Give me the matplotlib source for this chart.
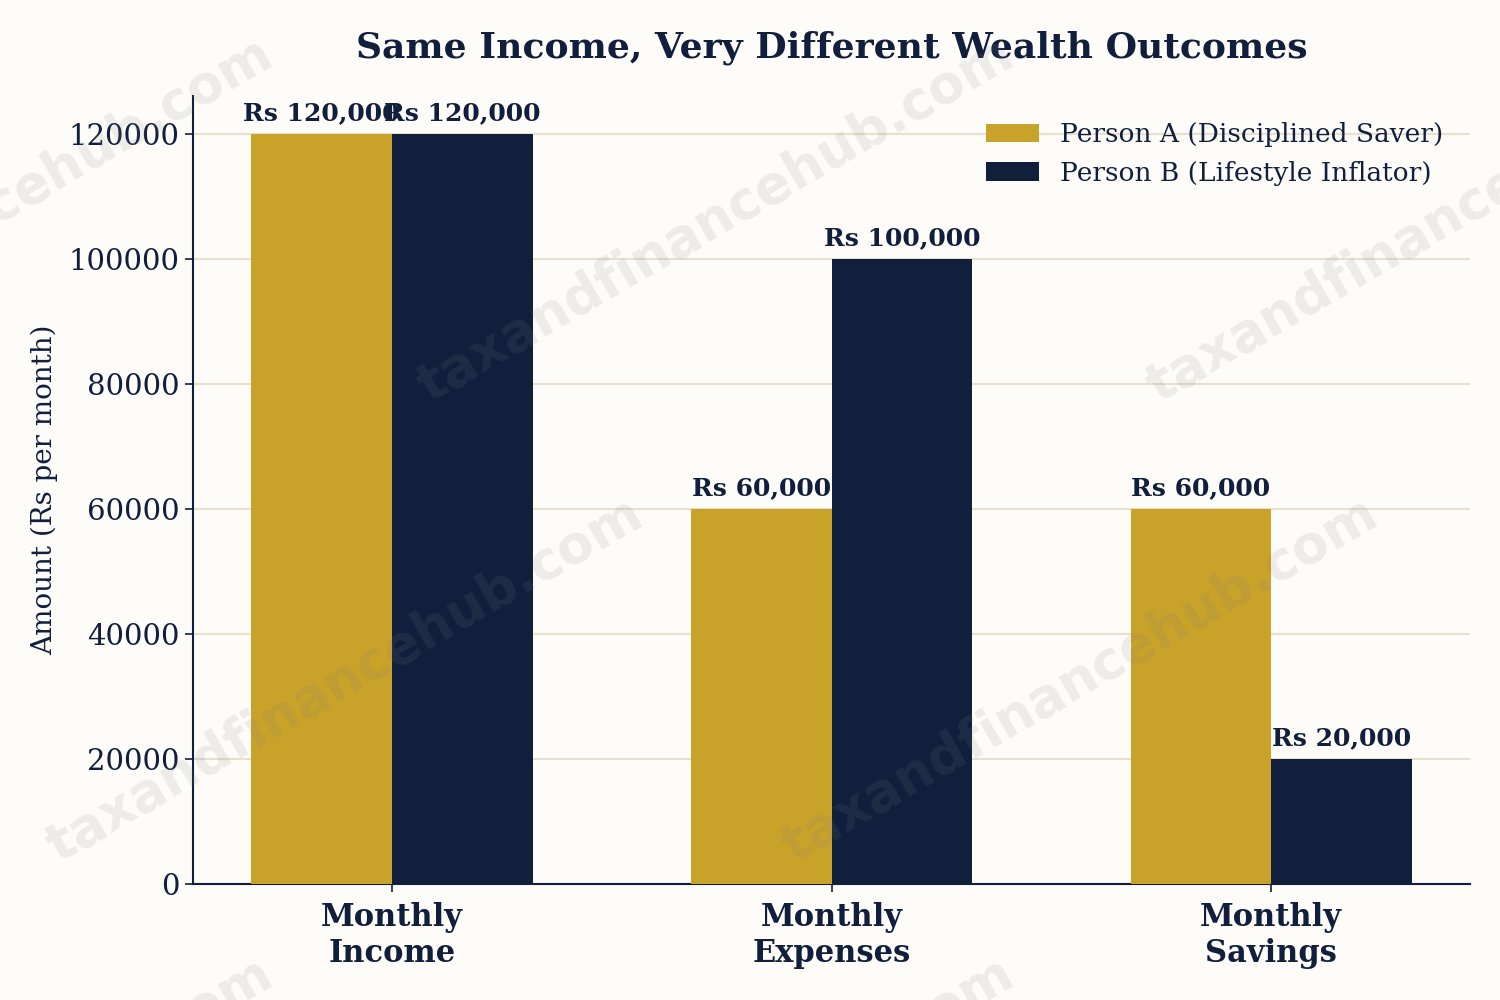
import numpy as np
import matplotlib
matplotlib.use("Agg")
import matplotlib.pyplot as plt

categories = ["Monthly\nIncome", "Monthly\nExpenses", "Monthly\nSavings"]
person_a = [120000, 60000, 60000]
person_b = [120000, 100000, 20000]
label_a = "Person A (Disciplined Saver)"
label_b = "Person B (Lifestyle Inflator)"

navy = "#111f3d"
gold = "#c9a22a"
bg = "#fdfcf8"

plt.rcParams["font.family"] = "DejaVu Serif"

fig, ax = plt.subplots(figsize=(15, 10), dpi=100)
fig.patch.set_facecolor(bg)
ax.set_facecolor(bg)
fig.subplots_adjust(left=0.1287, right=0.98, bottom=0.116, top=0.904)

x = np.arange(len(categories))
w = 0.32
bars_a = ax.bar(x - w / 2, person_a, w, color=gold, label=label_a, zorder=3)
bars_b = ax.bar(x + w / 2, person_b, w, color=navy, label=label_b, zorder=3)

for bars in (bars_a, bars_b):
    ax.bar_label(bars, labels=["Rs {:,}".format(v) for v in bars.datavalues],
                 padding=6, fontsize=18, fontweight="bold", color=navy, zorder=4)

ax.set_ylim(0, 126000)
ax.set_xticks(x)
ax.set_xticklabels(categories, fontsize=22, fontweight="bold", color=navy)
ax.tick_params(axis="y", labelsize=21, colors=navy, length=6, width=1.2)
ax.tick_params(axis="x", length=6, width=1.2, colors=navy, pad=7)
ax.set_ylabel("Amount (Rs per month)", fontsize=20, color=navy, labelpad=8)
ax.set_title("Same Income, Very Different Wealth Outcomes", fontsize=26,
             fontweight="bold", color=navy, pad=28)

ax.grid(axis="y", color="#e6e0cc", linewidth=1.5, zorder=0)
ax.set_axisbelow(True)
for s in ["top", "right"]:
    ax.spines[s].set_visible(False)
for s in ["left", "bottom"]:
    ax.spines[s].set_color(navy)
    ax.spines[s].set_linewidth(1.5)

leg = ax.legend(loc="upper right", frameon=False, fontsize=19,
                labelcolor=navy, handlelength=2.0, handleheight=0.7,
                borderaxespad=0.6)

# watermark tiles
for (wx, wy) in [(-0.017, 0.78), (0.477, 0.78), (0.963, 0.78),
                 (0.23, 0.32), (0.72, 0.32),
                 (-0.017, -0.14), (0.477, -0.14)]:
    fig.text(wx, wy, "taxandfinancehub.com", fontsize=38, fontweight="bold",
             family="DejaVu Sans", color="gray", alpha=0.13, rotation=30,
             ha="center", va="center", zorder=10)

plt.savefig("out.png", facecolor=bg)
